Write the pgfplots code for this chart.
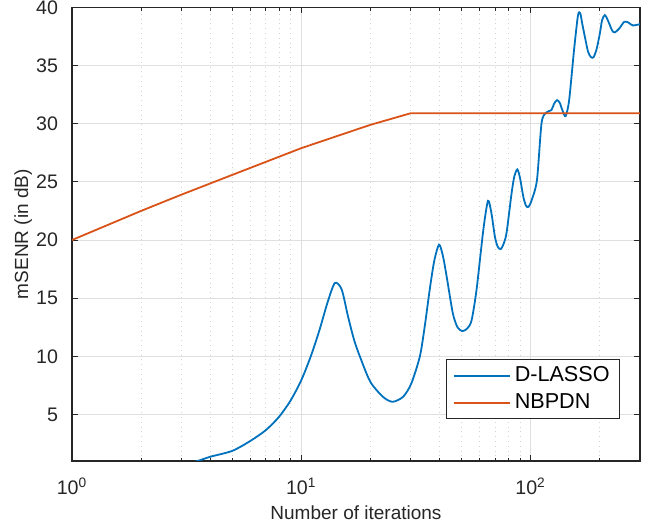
\documentclass[border=0pt]{standalone}
\usepackage{fontspec}
\setmainfont{Liberation Sans}
\usepackage{pgfplots}
\pgfplotsset{compat=1.18}

\definecolor{mblue}{rgb}{0,0.447,0.741}
\definecolor{morange}{rgb}{0.85,0.325,0.098}
\definecolor{maxis}{rgb}{0.15,0.15,0.15}

\begin{document}
\begin{tikzpicture}
\useasboundingbox (0,0) rectangle (325pt,265.5pt);
\begin{axis}[
    at={(36pt,35pt)}, anchor=south west,
    scale only axis,
    width=284pt, height=226.8pt,
    xmode=log,
    xmin=1, xmax=300,
    ymin=1, ymax=40,
    xtick={1,10,100},
    xticklabels={10\textsuperscript{0},10\textsuperscript{1},10\textsuperscript{2}},
    ytick={5,10,...,40},
    minor xtick={2,3,4,5,6,7,8,9,20,30,40,50,60,70,80,90,200,300},
    tick align=inside,
    tick pos=both,
    major tick length=3pt,
    minor tick length=1.6pt,
    every tick/.style={maxis, line width=0.5pt},
    axis line style={maxis, line width=0.6pt},
    xmajorgrids, ymajorgrids, xminorgrids,
    major grid style={gray!25, line width=0.5pt},
    minor grid style={gray!35, dotted, line width=0.5pt},
    /pgf/number format/assume math mode=true,
    tick label style={font=\fontsize{9.8}{11}\selectfont, text=maxis},
    label style={font=\fontsize{9.5}{11}\selectfont, text=maxis},
    xlabel={Number of iterations},
    ylabel={mSENR (in dB)},
    xticklabel style={yshift=-5pt},
    yticklabel style={xshift=-3.5pt},
    xlabel style={at={(axis description cs:0.5,-0.084)}, anchor=north},
    ylabel style={at={(axis description cs:-0.058,0.5)}, anchor=south},
    legend style={at={(0.965,0.092)}, anchor=south east, draw=maxis,
        font=\fontsize{10.8}{12}\selectfont, inner xsep=3pt, inner ysep=1.5pt,
        row sep=0.5pt, line width=0.5pt},
    legend cell align=left,
    legend image code/.code={\draw[#1, line width=0.9pt] (0pt,0pt) -- (28pt,0pt);},
    clip=true,
]
\addplot[mblue, line width=0.9pt, smooth, tension=0.45] coordinates {
(1,0.1)(2,0.3)(3,0.65)(3.54,1.01)(4,1.36)(5,1.87)(6,2.73)(7,3.65)(8,4.8)(9,6.23)
(10,7.95)(11,10.0)(12,12.25)(13,14.6)(14,16.3)(15,15.75)(16,13.4)(17,11.4)(18,10.0)
(20,7.81)(22.7,6.52)(25,6.09)(27.8,6.52)(30.2,7.67)(32.9,10.0)(34.5,12.5)(36.3,15.7)
(38,18.2)(39.9,19.6)(41.5,18.6)(43.1,16.8)(45.8,13.7)(48,12.5)(50.4,12.17)(53,12.4)
(55.3,13.1)(58.1,15.7)(62.2,20.85)(65.2,23.37)(67.5,22.3)(69.9,20.27)(72,19.4)(74.1,19.22)
(76,19.6)(78.5,20.57)(82.6,24.0)(85,25.5)(87.6,26.07)(90,25.3)(93,23.7)(95.5,22.95)(97.9,22.85)
(101,23.4)(106.6,25.15)(111.6,30.03)(116.5,30.94)(123.2,31.17)(126.5,31.7)(130.3,32.03)
(134,31.8)(137.6,31.17)(142.1,30.65)(147.3,32.03)(154.7,36.33)(160.9,39.3)(164.6,39.5)
(168,38.6)(172.5,37.47)(178,36.2)(183,35.75)(188,35.7)(194,36.4)(200.5,37.76)(205,38.9)
(210.7,39.34)(216,39.0)(221.6,38.48)(227,38.0)(232.9,37.85)(244,38.2)(256,38.76)(267,38.7)
(279,38.45)(300,38.56)
};
\addlegendentry{D-LASSO}
\addplot[morange, line width=0.9pt] coordinates {
(1,20.0)(2,22.5)(3,23.9)(5,25.6)(10,27.9)(20,29.9)(30,30.9)(300,30.9)
};
\addlegendentry{NBPDN}
\end{axis}
\end{tikzpicture}
\end{document}
